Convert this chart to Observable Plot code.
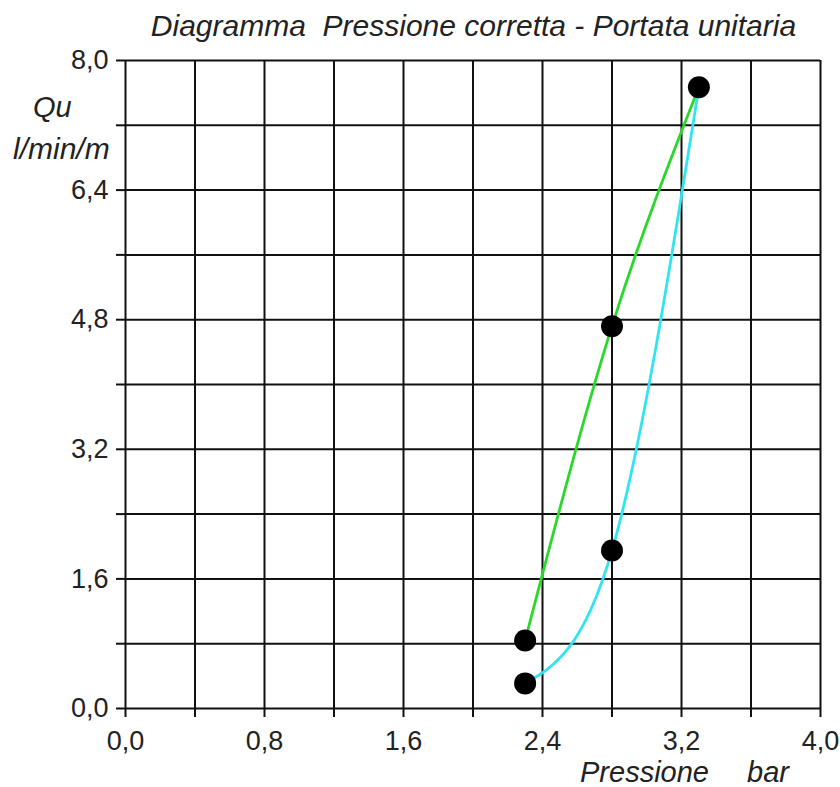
<!DOCTYPE html>
<html>
<head>
<meta charset="utf-8">
<script src="https://cdn.jsdelivr.net/npm/d3@7"></script>
<script src="https://cdn.jsdelivr.net/npm/@observablehq/plot@0.6"></script>
<style>
  html, body { margin: 0; padding: 0; background: #fff; }
  #wrap { position: relative; width: 840px; height: 787px; font-family: "Liberation Sans", Arial, sans-serif; overflow: hidden; }
  .lbl { position: absolute; font-style: italic; color: #222; white-space: nowrap; line-height: normal; }
  #title { left: 0; width: 947px; top: 9px; text-align: center; font-size: 30px; }
  #qu { left: 33px; top: 91px; font-size: 29px; }
  #unit { left: 13px; top: 132px; font-size: 30px; }
  #xl1 { left: 580px; top: 759px; font-size: 29px; line-height: 27px; }
  #xl2 { left: 747px; top: 759px; font-size: 29px; line-height: 27px; }
</style>
</head>
<body>
<div id="wrap">
  <div class="lbl" id="title">Diagramma&nbsp; Pressione corretta - Portata unitaria</div>
  <div class="lbl" id="qu">Qu</div>
  <div class="lbl" id="unit">l/min/m</div>
  <div class="lbl" id="xl1">Pressione</div>
  <div class="lbl" id="xl2">bar</div>
</div>
<script>
// Data
const xGrid = [0, 0.4, 0.8, 1.2, 1.6, 2.0, 2.4, 2.8, 3.2, 3.6, 4.0];
const yGrid = [0, 0.8, 1.6, 2.4, 3.2, 4.0, 4.8, 5.6, 6.4, 7.2, 8.0];
const xLabels = [0, 0.8, 1.6, 2.4, 3.2, 4.0];
const yLabels = [0, 1.6, 3.2, 4.8, 6.4, 8.0];

const greenP = [2.30, 2.80, 3.30];
const greenQ = [0.84, 4.72, 7.67];
const cyanP = [2.30, 2.80, 3.30];
const cyanQ = [0.31, 1.95, 7.67];

const green = greenP.map((p, i) => ({p, q: greenQ[i]}));
const cyan = cyanP.map((p, i) => ({p, q: cyanQ[i]}));
const points = [...green, ...cyan.slice(0, 2)];

const fmt = d => d.toFixed(1).replace(".", ",");
const near = (a, b) => Math.abs(a - b) < 1e-6;

const chart = Plot.plot({
  width: 840,
  height: 787,
  marginTop: 60,
  marginBottom: 79,
  marginLeft: 125,
  marginRight: 20,
  style: { fontFamily: "Liberation Sans, Arial, sans-serif", fontSize: "27px", color: "#222", background: "transparent", overflow: "visible" },
  x: { domain: [0, 4] },
  y: { domain: [0, 8] },
  marks: [
    Plot.ruleX(xGrid, { stroke: "#111", strokeWidth: 2 }),
    Plot.ruleY(yGrid, { stroke: "#111", strokeWidth: 2 }),
    Plot.axisX({
      ticks: xGrid, tickSize: 9, tickPadding: 13, stroke: "#111", strokeWidth: 2,
      tickFormat: d => xLabels.some(v => near(v, d)) ? fmt(d) : "",
      label: null
    }),
    Plot.axisY({
      ticks: yGrid, tickSize: 9, tickPadding: 8, stroke: "#111", strokeWidth: 2,
      tickFormat: d => yLabels.some(v => near(v, d)) ? fmt(d) : "",
      label: null
    }),
    Plot.line(green, { x: "p", y: "q", stroke: "#2ad82a", strokeWidth: 2.8, curve: "natural" }),
    Plot.line(cyan, { x: "p", y: "q", stroke: "#30e4f0", strokeWidth: 2.8, curve: "natural" }),
    Plot.dot(points, { x: "p", y: "q", r: 11, fill: "#000", stroke: "none" })
  ]
});
document.getElementById("wrap").prepend(chart);
chart.style.position = "absolute";
chart.style.left = "0";
chart.style.top = "0";
</script>
</body>
</html>
